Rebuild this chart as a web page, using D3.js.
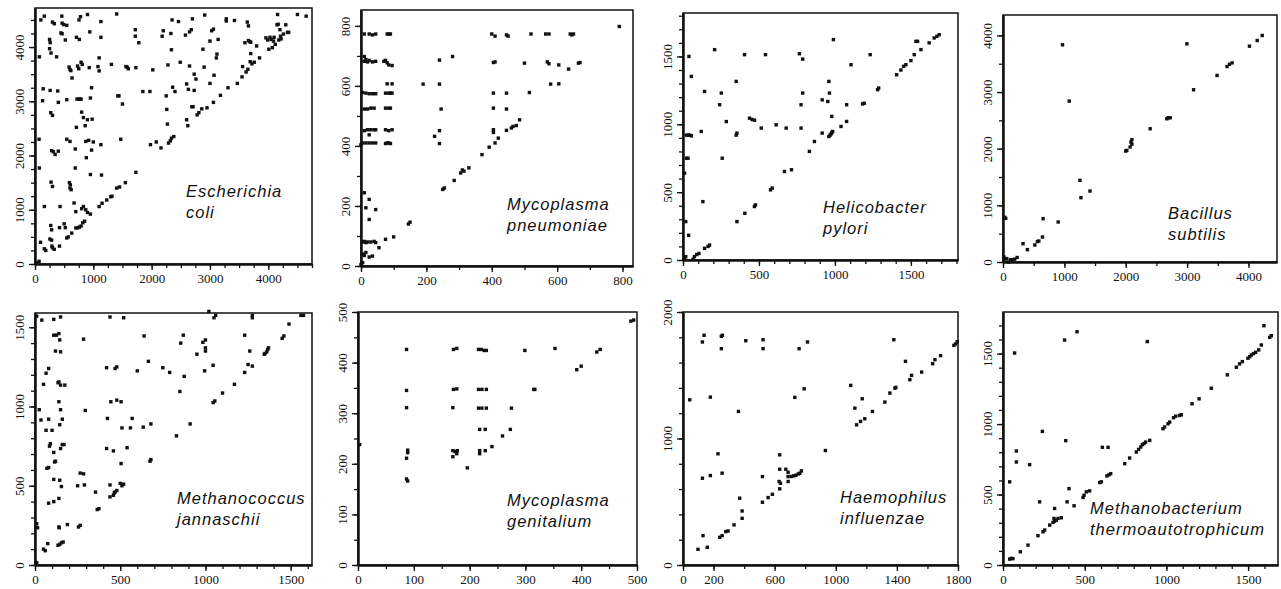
<!DOCTYPE html>
<html>
<head>
<meta charset="utf-8">
<script src="https://cdn.jsdelivr.net/npm/d3@7"></script>
<style>
  body { margin: 0; background: #fff; }
  .species { font-family: "Liberation Sans", Arial, sans-serif; font-style: italic; font-size: 16.5px; letter-spacing: 1px; fill: #111; }
</style>
</head>
<body>
<script>
// ---- data: gene positions (x vs y) for each genome pair ----
var ecoliPts = [
  [30,20],[70,50],[95,400],[75,1770],[70,2300],[75,3820],[100,4500],[160,4570],[140,3230],[130,3010],[160,1060],[160,280],[185,250],
  [300,4460],[330,4430],[250,4140],[260,4080],[250,3970],[275,3890],[260,3200],[270,2790],[300,2740],[285,2090],[315,2070],[345,2020],
  [275,1510],[300,1430],[270,710],[285,630],[255,460],[285,440],[290,330],[300,300],[330,270],
  [460,4570],[465,4440],[490,4415],[370,3820],[390,3190],[400,2980],[400,2080],[420,670],[420,330],[430,1060],[445,4260],[465,4245],
  [520,4130],[500,740],[520,670],[545,4400],[545,3030],[545,2300],
  [585,3630],[600,3585],[615,3565],[635,3430],[600,2260],[690,2120],[690,1770],[590,1500],[605,1460],[600,1400],[620,1370],[670,1125],
  [700,965],[545,480],[570,500],[630,570],[700,665],[730,665],[760,680],[790,700],[820,760],[850,790],
  [755,4500],[780,4560],[710,4180],[760,4140],[790,3720],[810,3680],[730,3650],[750,3600],[720,3040],[750,3040],[770,3040],[790,3040],
  [800,2800],[830,2700],[860,2550],[900,2660],[870,2260],[920,2280],[710,2520],[880,1960],[950,1650],[800,1020],[830,1060],[900,950],
  [950,920],[870,1000],[900,4600],[940,4280],[930,3620],[950,3060],[970,3250],[980,2670],[970,2100],[1000,2250],[1080,3640],[1100,3800],
  [1130,4470],[1130,4180],[1100,3560],[1130,2200],[1140,1640],[1100,1060],[1150,1120],
  [1230,1180],[1300,1240],[1320,1250],[1310,3680],[1400,4610],[1420,3100],[1440,3100],[1400,1400],[1450,1420],[1470,2300],[1500,2950],
  [1550,1500],[1560,3640],[1580,3630],[1600,3600],[1720,4320],[1720,4200],[1730,3620],[1730,1690],[1780,4080],[1850,3180],[1970,3180],
  [2020,3580],[1980,2200],[2080,2250],[2160,2140],[2180,4200],[2200,4300],[2250,3100],[2260,2850],[2270,2580],[2290,2230],[2320,2270],
  [2340,2320],[2380,2350],[2280,3670],[2330,4250],[2340,3950],[2350,4500],[2360,3260],[2400,3180],[2460,4470],[2490,3720],
  [2580,4220],[2600,2660],[2620,2550],[2600,3320],[2630,3220],[2650,3650],[2650,4280],[2680,4320],[2700,4520],[2690,2900],[2710,2900],
  [2730,3500],[2730,3200],[2760,3410],[2780,2750],[2810,2790],[2860,2860],[2880,3960],[2900,3630],[2910,4590],[2950,2880],[3000,4110],
  [3000,3330],[3030,4300],[3060,4330],[3060,2980],[3070,3480],[3110,3800],[3120,3870],[3140,4140],[3180,3110],[3280,4520],[3280,4480],
  [3310,3250],[3420,4490],[3470,3330],[3550,3450],[3560,3640],[3600,4080],[3640,4460],[3660,4390],[3620,3540],[3650,3590],[3660,4120],
  [3680,4100],[3700,4090],[3690,3730],[3720,3690],[3700,3880],[3760,3720],[3800,4020],[3850,3800],[3960,4170],[3990,4130],[4010,3960],
  [4030,4180],[4050,4140],[4070,3990],[4090,4110],[4100,4180],[4120,4050],[4150,4410],[4160,4600],[4170,4420],[4180,4130],[4200,4320],
  [4210,4200],[4220,4150],[4260,4240],[4300,4410],[4330,4270],[4350,4270],[4500,4600],[4650,4570]
];

var mpneuPts = [
  [10,773],[25,773],[35,770],[45,773],[80,773],[85,773],[90,773],[400,773],[410,766],[445,770],[450,766],[520,773],[565,773],[575,773],
  [640,773],[645,770],[650,773],[790,798],
  [10,698],[10,682],[15,688],[20,680],[25,685],[35,680],[45,682],[70,682],[75,685],[80,677],[85,670],[95,668],[240,686],[280,698],
  [405,678],[410,680],[500,676],[570,680],[575,674],[605,670],[635,656],[665,676],[670,678],
  [80,607],[95,607],[190,606],[240,606],[580,606],[605,607],
  [5,578],[15,576],[25,574],[35,574],[45,574],[75,576],[85,576],[90,576],[95,576],[405,576],[445,576],[515,578],
  [10,523],[20,523],[30,526],[40,526],[75,526],[85,526],[90,526],[245,523],[405,526],[445,523],
  [10,451],[20,454],[30,454],[40,454],[45,454],[75,454],[85,451],[95,454],[240,451],[405,454],[405,445],[445,452],[25,437],
  [5,410],[15,410],[25,410],[35,410],[45,410],[75,408],[80,410],[85,410],[90,408],[410,410],[420,426],[240,408],[225,432],[0,404],
  [460,460],[465,465],[475,468],[485,487],[370,371],[392,396],[330,327],[305,310],[310,320],[315,316],[285,285],[250,255],[255,260],
  [145,140],[150,146],[100,97],[75,89],[55,61],
  [10,244],[25,222],[15,194],[45,188],[25,155],
  [5,80],[10,82],[15,78],[20,80],[30,80],[40,82],[45,78],[5,40],[10,35],[15,45],[25,30],[35,33],[5,11],[0,5]
];

var hpyloriPts = [
  [10,12],[18,25],[18,283],[37,182],[10,640],[22,750],[33,750],[22,920],[35,920],[45,920],[55,915],[39,1500],[55,1353],
  [66,5],[75,25],[90,40],[105,48],[142,86],[165,100],[175,110],[131,430],[120,947],[142,1242],[208,1550],[241,1144],[252,1230],
  [258,750],[285,1020],[350,1316],[350,920],[355,935],[355,283],[407,344],[405,1513],[470,394],[477,406],[438,1045],[455,1035],
  [471,1030],[515,972],[543,1513],[613,996],[668,652],[576,517],[587,530],[679,972],[714,665],[766,1520],[788,1480],[777,1144],
  [788,1230],[777,972],[832,800],[865,873],[916,1180],[916,935],[953,1168],[960,1316],[964,1230],[960,910],[968,920],[975,930],
  [980,940],[985,947],[979,1058],[990,1624],[1040,984],[1077,1021],[1077,1144],[1106,1439],[1182,1150],[1193,1155],[1232,1513],
  [1281,1255],[1288,1267],[1406,1365],[1434,1400],[1452,1427],[1467,1439],[1500,1469],[1522,1513],[1533,1611],[1544,1611],
  [1566,1550],[1620,1600],[1653,1636],[1671,1648],[1686,1660]
];

var bsubPts = [
  [25,790],[45,770],[15,90],[30,50],[60,60],[90,0],[120,40],[150,40],[190,50],[230,80],
  [327,323],[398,218],[518,300],[560,360],[584,370],[643,441],[654,764],[899,706],[970,3834],[1079,2840],[1254,1441],[1270,1135],
  [1417,1252],[2000,1958],[2017,1970],[2071,2030],[2085,2117],[2100,2160],[2100,2080],[2398,2352],[2670,2528],[2690,2546],[2725,2546],
  [2997,3851],[3106,3040],[3488,3293],[3651,3450],[3690,3490],[3733,3515],[4016,3810],[4142,3910],[4224,3998]
];

var mjannPts = [
  [10,1570],[40,1545],[25,980],[35,915],[50,1140],[10,260],[15,235],[10,15],
  [65,1210],[80,1240],[65,850],[100,850],[80,920],[85,750],[90,765],[70,610],[80,615],[110,710],[115,650],[120,655],[110,540],[80,390],
  [110,400],[75,135],[50,100],[60,90],[110,1550],[110,1450],[125,1450],[120,1350],[140,1460],[150,1565],[145,1420],[150,1345],
  [135,1150],[140,1155],[150,1135],[140,1030],[150,980],[160,920],[145,885],[150,735],[160,760],[145,535],[155,495],[140,420],
  [140,240],[142,235],[135,125],[145,130],[155,140],[165,145],[170,760],[175,1135],
  [190,255],[255,240],[265,250],[250,500],[265,580],[285,575],[290,505],[285,1425],[295,975],[355,460],[365,350],[375,355],
  [420,1245],[425,925],[420,735],[440,1565],[445,1030],[440,505],[440,430],[460,440],[465,455],[470,460],[480,470],[460,720],
  [470,1240],[480,1250],[480,1040],[505,1030],[510,865],[505,640],[500,515],[510,500],[520,510],[520,1560],[540,740],[560,865],
  [570,925],[600,1225],[635,870],[640,1445],[665,1285],[675,655],[680,665],[680,890],[750,1245],[790,1215],[830,815],[850,1095],
  [855,1400],[870,1450],[875,1190],[910,890],[950,1330],[985,1405],[1000,1350],[1000,1370],[1000,1420],[995,1225],[1020,1600],
  [1045,1025],[1055,1035],[1045,1260],[1050,1560],[1060,1575],[1100,1085],[1170,1140],[1230,1215],[1230,1450],[1250,1265],
  [1260,1350],[1275,1255],[1275,1560],[1275,1575],[1345,1330],[1350,1335],[1360,1345],[1365,1360],[1370,1370],[1450,1430],
  [1460,1445],[1490,1520],[1560,1575],[1575,1575]
];

var mgenPts = [
  [3,238],
  [87,426],[87,345],[87,311],[89,227],[89,222],[87,211],[87,170],[89,166],
  [171,426],[177,428],[171,347],[177,348],[170,311],[170,226],[174,224],[178,226],[170,214],[177,220],
  [216,426],[221,426],[226,424],[230,424],[216,347],[222,347],[230,347],[216,310],[222,310],[230,310],[218,268],[228,268],
  [218,226],[218,220],[228,226],
  [196,192],[240,234],[259,255],[273,268],[275,310],[299,424],[315,347],[317,347],[353,428],[392,386],[400,393],
  [428,421],[434,426],[489,482],[494,484]
];

var hinfPts = [
  [44,1306],[127,1763],[138,1816],[127,686],[131,232],[98,124],[159,140],[179,1327],[179,707],[229,879],[240,219],[256,232],
  [251,1808],[258,1816],[251,1710],[256,726],[280,264],[295,269],[334,317],[363,1214],[371,528],[387,427],[387,369],[411,1773],
  [524,1781],[524,1710],[520,699],[520,496],[557,533],[585,559],[633,602],[629,660],[638,646],[633,871],[633,757],[673,757],
  [688,733],[688,699],[688,660],[710,700],[725,705],[740,710],[755,720],[765,725],[775,744],[732,1325],[760,1710],[793,1393],
  [815,1763],[932,905],[1098,1420],[1125,1240],[1136,1108],[1162,1135],[1173,1314],[1190,1156],[1240,1214],[1321,1288],
  [1354,1359],[1380,1781],[1387,1398],[1393,1404],[1456,1610],[1485,1465],[1496,1499],[1562,1525],[1634,1591],[1649,1623],
  [1686,1655],[1773,1736],[1784,1747],[1795,1765]
];

var mthermPts = [
  [41,590],[71,1504],[82,809],[82,731],[106,94],[41,42],[51,47],[61,45],[153,141],[163,712],[214,208],[224,448],[241,948],
  [245,236],[255,248],[286,283],[306,302],[316,311],[312,330],[316,401],[326,318],[337,330],[357,335],[377,1596],[384,882],
  [392,448],[404,542],[435,420],[453,1655],[490,479],[496,495],[510,519],[530,526],[592,585],[602,590],[608,835],[643,835],
  [636,632],[648,640],[659,648],[745,719],[775,759],[816,802],[830,820],[843,837],[853,854],[863,862],[873,872],[883,1585],
  [898,884],[979,967],[989,979],[1010,1002],[1020,1014],[1044,1045],[1057,1056],[1081,1061],[1091,1066],[1157,1144],[1200,1179],
  [1275,1254],[1373,1349],[1428,1403],[1448,1427],[1465,1443],[1499,1467],[1510,1478],[1520,1490],[1533,1500],[1546,1509],
  [1565,1526],[1581,1561],[1597,1698],[1632,1615],[1642,1627]
];

var speciesNames = [
  ["Escherichia", "coli"], ["Mycoplasma", "pneumoniae"], ["Helicobacter", "pylori"], ["Bacillus", "subtilis"],
  ["Methanococcus", "jannaschii"], ["Mycoplasma", "genitalium"], ["Haemophilus", "influenzae"],
  ["Methanobacterium", "thermoautotrophicum"]
];
var allPoints = [ecoliPts, mpneuPts, hpyloriPts, bsubPts, mjannPts, mgenPts, hinfPts, mthermPts];

// axis extents and ticks
var xMaxes = [4750, 832, 1810, 4465, 1625, 500, 1800, 1683];
var yMaxes = [4720, 853, 1820, 4360, 1590, 500, 2000, 1795];
var xTickLabels = [[0,1000,2000,3000,4000],[0,200,400,600,800],[0,500,1000,1500],[0,1000,2000,3000,4000],
                   [0,500,1000,1500],[0,100,200,300,400,500],[0,200,600,1000,1400,1800],[0,500,1000,1500]];
var yTickLabels = [[0,1000,2000,3000,4000],[0,200,400,600,800],[0,500,1000,1500],[0,1000,2000,3000,4000],
                   [0,500,1000,1500],[0,100,200,300,400,500],[0,1000,2000],[0,500,1000,1500]];
var minorSteps = [250, 100, 100, 500, 100, 50, 200, 100];

// ---- layout (pixels) ----
var boxes = [
  {l: 35, r: 312, t: 8, b: 264}, {l: 361, r: 633, t: 10, b: 266}, {l: 683, r: 958, t: 13, b: 260}, {l: 1003, r: 1277, t: 15, b: 262},
  {l: 35, r: 312, t: 313, b: 565}, {l: 358, r: 637, t: 312, b: 565}, {l: 683, r: 958, t: 312, b: 565}, {l: 1003, r: 1278, t: 312, b: 565}
];
var labelPos = [[186, 197], [507, 210], [823, 213], [1168, 219], [177, 504], [507, 506], [840, 503], [1090, 514]];
var serif = '"Liberation Serif", "DejaVu Serif", "Times New Roman", serif';

var svg = d3.select("body").append("svg")
  .attr("width", 1281)
  .attr("height", 589);

boxes.forEach(function(b, i) {
  var xScale = d3.scaleLinear().domain([0, xMaxes[i]]).range([b.l, b.r]);
  var yScale = d3.scaleLinear().domain([0, yMaxes[i]]).range([b.b, b.t]);
  var g = svg.append("g");

  // frame
  g.append("rect")
    .attr("x", b.l).attr("y", b.t)
    .attr("width", b.r - b.l).attr("height", b.b - b.t)
    .attr("fill", "none").attr("stroke", "#111").attr("stroke-width", 1.5);

  // minor ticks
  var xMinor = d3.range(0, xMaxes[i] + 1, minorSteps[i]);
  var yMinor = d3.range(0, yMaxes[i] + 1, minorSteps[i]);
  g.append("g")
    .attr("transform", `translate(0, ${b.b})`)
    .call(d3.axisBottom(xScale).tickValues(xMinor).tickSize(4).tickSizeOuter(0).tickFormat(""));
  g.append("g")
    .attr("transform", `translate(${b.l}, 0)`)
    .call(d3.axisLeft(yScale).tickValues(yMinor).tickSize(4).tickSizeOuter(0).tickFormat(""));

  // labelled ticks
  var xAx = g.append("g")
    .attr("transform", `translate(0, ${b.b})`)
    .call(d3.axisBottom(xScale).tickValues(xTickLabels[i]).tickSize(6).tickSizeOuter(0).tickFormat(d3.format("d")));
  xAx.attr("font-family", serif).attr("font-size", 13);
  xAx.selectAll("text").attr("y", 9).attr("dy", "0.75em").attr("fill", "#111");

  var yAx = g.append("g")
    .attr("transform", `translate(${b.l}, 0)`)
    .call(d3.axisLeft(yScale).tickValues(yTickLabels[i]).tickSize(6).tickSizeOuter(0).tickFormat(d3.format("d")));
  yAx.attr("font-family", serif).attr("font-size", 13);
  yAx.selectAll("text")
    .attr("transform", "rotate(-90)")
    .attr("x", 0).attr("y", -11).attr("dy", 0)
    .attr("text-anchor", "middle")
    .attr("fill", "#111");

  g.selectAll(".domain").attr("stroke", "#111").attr("stroke-width", 2);
  g.selectAll(".tick line").attr("stroke", "#111").attr("stroke-width", 1.3);

  // points
  g.selectAll("rect.pt")
    .data(allPoints[i])
    .enter()
    .append("rect")
    .attr("class", "pt")
    .attr("x", d => xScale(d[0]) - 1.7)
    .attr("y", d => yScale(d[1]) - 1.7)
    .attr("width", 3.4)
    .attr("height", 3.4)
    .attr("fill", "#111");

  // species name
  var lbl = g.append("text")
    .attr("class", "species")
    .attr("x", labelPos[i][0])
    .attr("y", labelPos[i][1]);
  lbl.append("tspan").attr("x", labelPos[i][0]).text(speciesNames[i][0]);
  lbl.append("tspan").attr("x", labelPos[i][0]).attr("dy", 21).text(speciesNames[i][1]);
});
</script>
</body>
</html>
